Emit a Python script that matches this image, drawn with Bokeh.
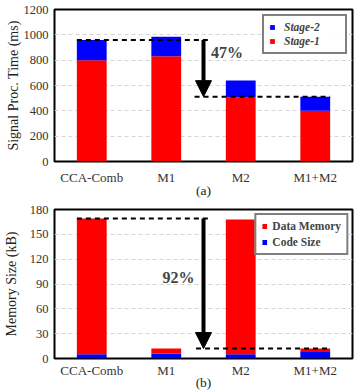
from bokeh.plotting import figure
from bokeh.models import Range1d, FixedTicker, Legend, LegendItem, Arrow, NormalHead, Label, ColumnDataSource
from bokeh.layouts import column
from bokeh.embed import file_html
from bokeh.resources import INLINE

categories = ["CCA-Comb", "M1", "M2", "M1+M2"]
stage1 = [800, 830, 505, 400]
stage2 = [160, 155, 135, 112]
code_size = [5, 6, 5, 8]
data_memory = [164, 6, 163, 4]
ticks_a = [0, 200, 400, 600, 800, 1000, 1200]
ticks_b = [0, 30, 60, 90, 120, 150, 180]

FONT = "Liberation Serif"
RED = "#ff0000"
BLUE = "#0000ff"


def base_fig(height, top, ymax, ticks, ytitle, xtitle, xstand, xtitle_stand, ylab_stand, ytitle_stand):
    p = figure(x_range=categories, y_range=Range1d(0, ymax), width=357, height=height,
               output_backend="svg", toolbar_location=None,
               min_border_left=52, min_border_right=5, min_border_top=top, min_border_bottom=0)
    p.outline_line_color = "black"
    p.outline_line_width = 2
    p.background_fill_color = "white"
    p.border_fill_color = "white"
    p.xgrid.grid_line_color = None
    p.ygrid.grid_line_color = "#d6d6d6"
    p.ygrid.grid_line_dash = "4 3"
    p.ygrid.grid_line_width = 1
    p.yaxis.ticker = FixedTicker(ticks=ticks)
    for ax in (p.xaxis[0], p.yaxis[0]):
        ax.axis_line_color = None
        ax.major_tick_line_color = None
        ax.minor_tick_line_color = None
        ax.major_tick_out = 0
        ax.major_tick_in = 0
        ax.minor_tick_out = 0
        ax.minor_tick_in = 0
        ax.major_label_text_font = FONT
        ax.major_label_text_color = "#333333"
        ax.axis_label_text_font = FONT
        ax.axis_label_text_font_style = "normal"
        ax.axis_label_text_color = "#222222"
    p.xaxis.major_label_text_font_size = "13px"
    p.yaxis.major_label_text_font_size = "12.5px"
    p.xaxis.major_label_standoff = xstand
    p.xaxis.axis_label = xtitle
    p.xaxis.axis_label_text_font_size = "13.5px"
    p.xaxis.axis_label_standoff = xtitle_stand
    p.yaxis.major_label_standoff = ylab_stand
    p.yaxis.axis_label = ytitle
    p.yaxis.axis_label_text_font_size = "14px"
    p.yaxis.axis_label_standoff = ytitle_stand
    return p


# ---------------- (a) ----------------
pa = base_fig(200, 9, 1200, ticks_a, "Signal Proc. Time (ms)", "(a)", 8, -5, 6, 0)
src_a = ColumnDataSource(dict(cat=categories, s1=stage1, s2=stage2))
ra = pa.vbar_stack(["s1", "s2"], x="cat", width=0.4, source=src_a,
                   fill_color=[RED, BLUE], line_color=None)
top_a = stage1[0] + stage2[0]
bot_a = stage1[3] + stage2[3]
pa.segment(x0=[0.3], y0=[top_a], x1=[2.08], y1=[top_a], line_color="black", line_width=2, line_dash="5 4")
pa.segment(x0=[1.88], y0=[bot_a], x1=[3.7], y1=[bot_a], line_color="black", line_width=2, line_dash="5 4")
pa.add_layout(Arrow(end=NormalHead(size=16, fill_color="black", line_color="black"),
                    x_start=2.0, y_start=top_a, x_end=2.0, y_end=bot_a,
                    line_color="black", line_width=4))
pa.add_layout(Label(x=2.1, y=860, text="47%", text_font=FONT, text_font_size="16px",
                    text_font_style="bold", text_align="left", text_baseline="middle"))
leg_a = Legend(items=[LegendItem(label="Stage-2", renderers=[ra[1]]),
                      LegendItem(label="Stage-1", renderers=[ra[0]])],
               location="top_right", border_line_color="black", border_line_width=2,
               label_text_font=FONT, label_text_font_style="bold italic", label_text_font_size="11.5px",
               glyph_width=6, glyph_height=6, padding=5, spacing=2, label_height=12,
               label_standoff=9, label_width=56, margin=5)
pa.add_layout(leg_a)

# ---------------- (b) ----------------
pb = base_fig(192, 9, 180, ticks_b, "Memory Size (kB)", "(b)", 4, -6, 6, 8)
src_b = ColumnDataSource(dict(cat=categories, code=code_size, data=data_memory))
rb = pb.vbar_stack(["code", "data"], x="cat", width=0.4, source=src_b,
                   fill_color=[BLUE, RED], line_color=None)
top_b = code_size[0] + data_memory[0]
bot_b = code_size[3] + data_memory[3]
pb.segment(x0=[0.3], y0=[top_b], x1=[2.1], y1=[top_b], line_color="black", line_width=2, line_dash="5 4")
pb.segment(x0=[1.9], y0=[bot_b], x1=[3.7], y1=[bot_b], line_color="black", line_width=2, line_dash="5 4")
pb.add_layout(Arrow(end=NormalHead(size=16, fill_color="black", line_color="black"),
                    x_start=2.0, y_start=top_b, x_end=2.0, y_end=bot_b,
                    line_color="black", line_width=4))
pb.add_layout(Label(x=1.88, y=98, text="92%", text_font=FONT, text_font_size="16px",
                    text_font_style="bold", text_align="right", text_baseline="middle"))
leg_b = Legend(items=[LegendItem(label="Data Memory", renderers=[rb[1]]),
                      LegendItem(label="Code Size", renderers=[rb[0]])],
               location="top_right", border_line_color="black", border_line_width=2,
               label_text_font=FONT, label_text_font_style="bold", label_text_font_size="11.5px",
               glyph_width=6, glyph_height=6, padding=5, spacing=4, label_height=12,
               label_standoff=5, margin=4)
pb.add_layout(leg_b)

layout = column(pa, pb, spacing=0)
open("out.html", "w").write(file_html(layout, INLINE))
